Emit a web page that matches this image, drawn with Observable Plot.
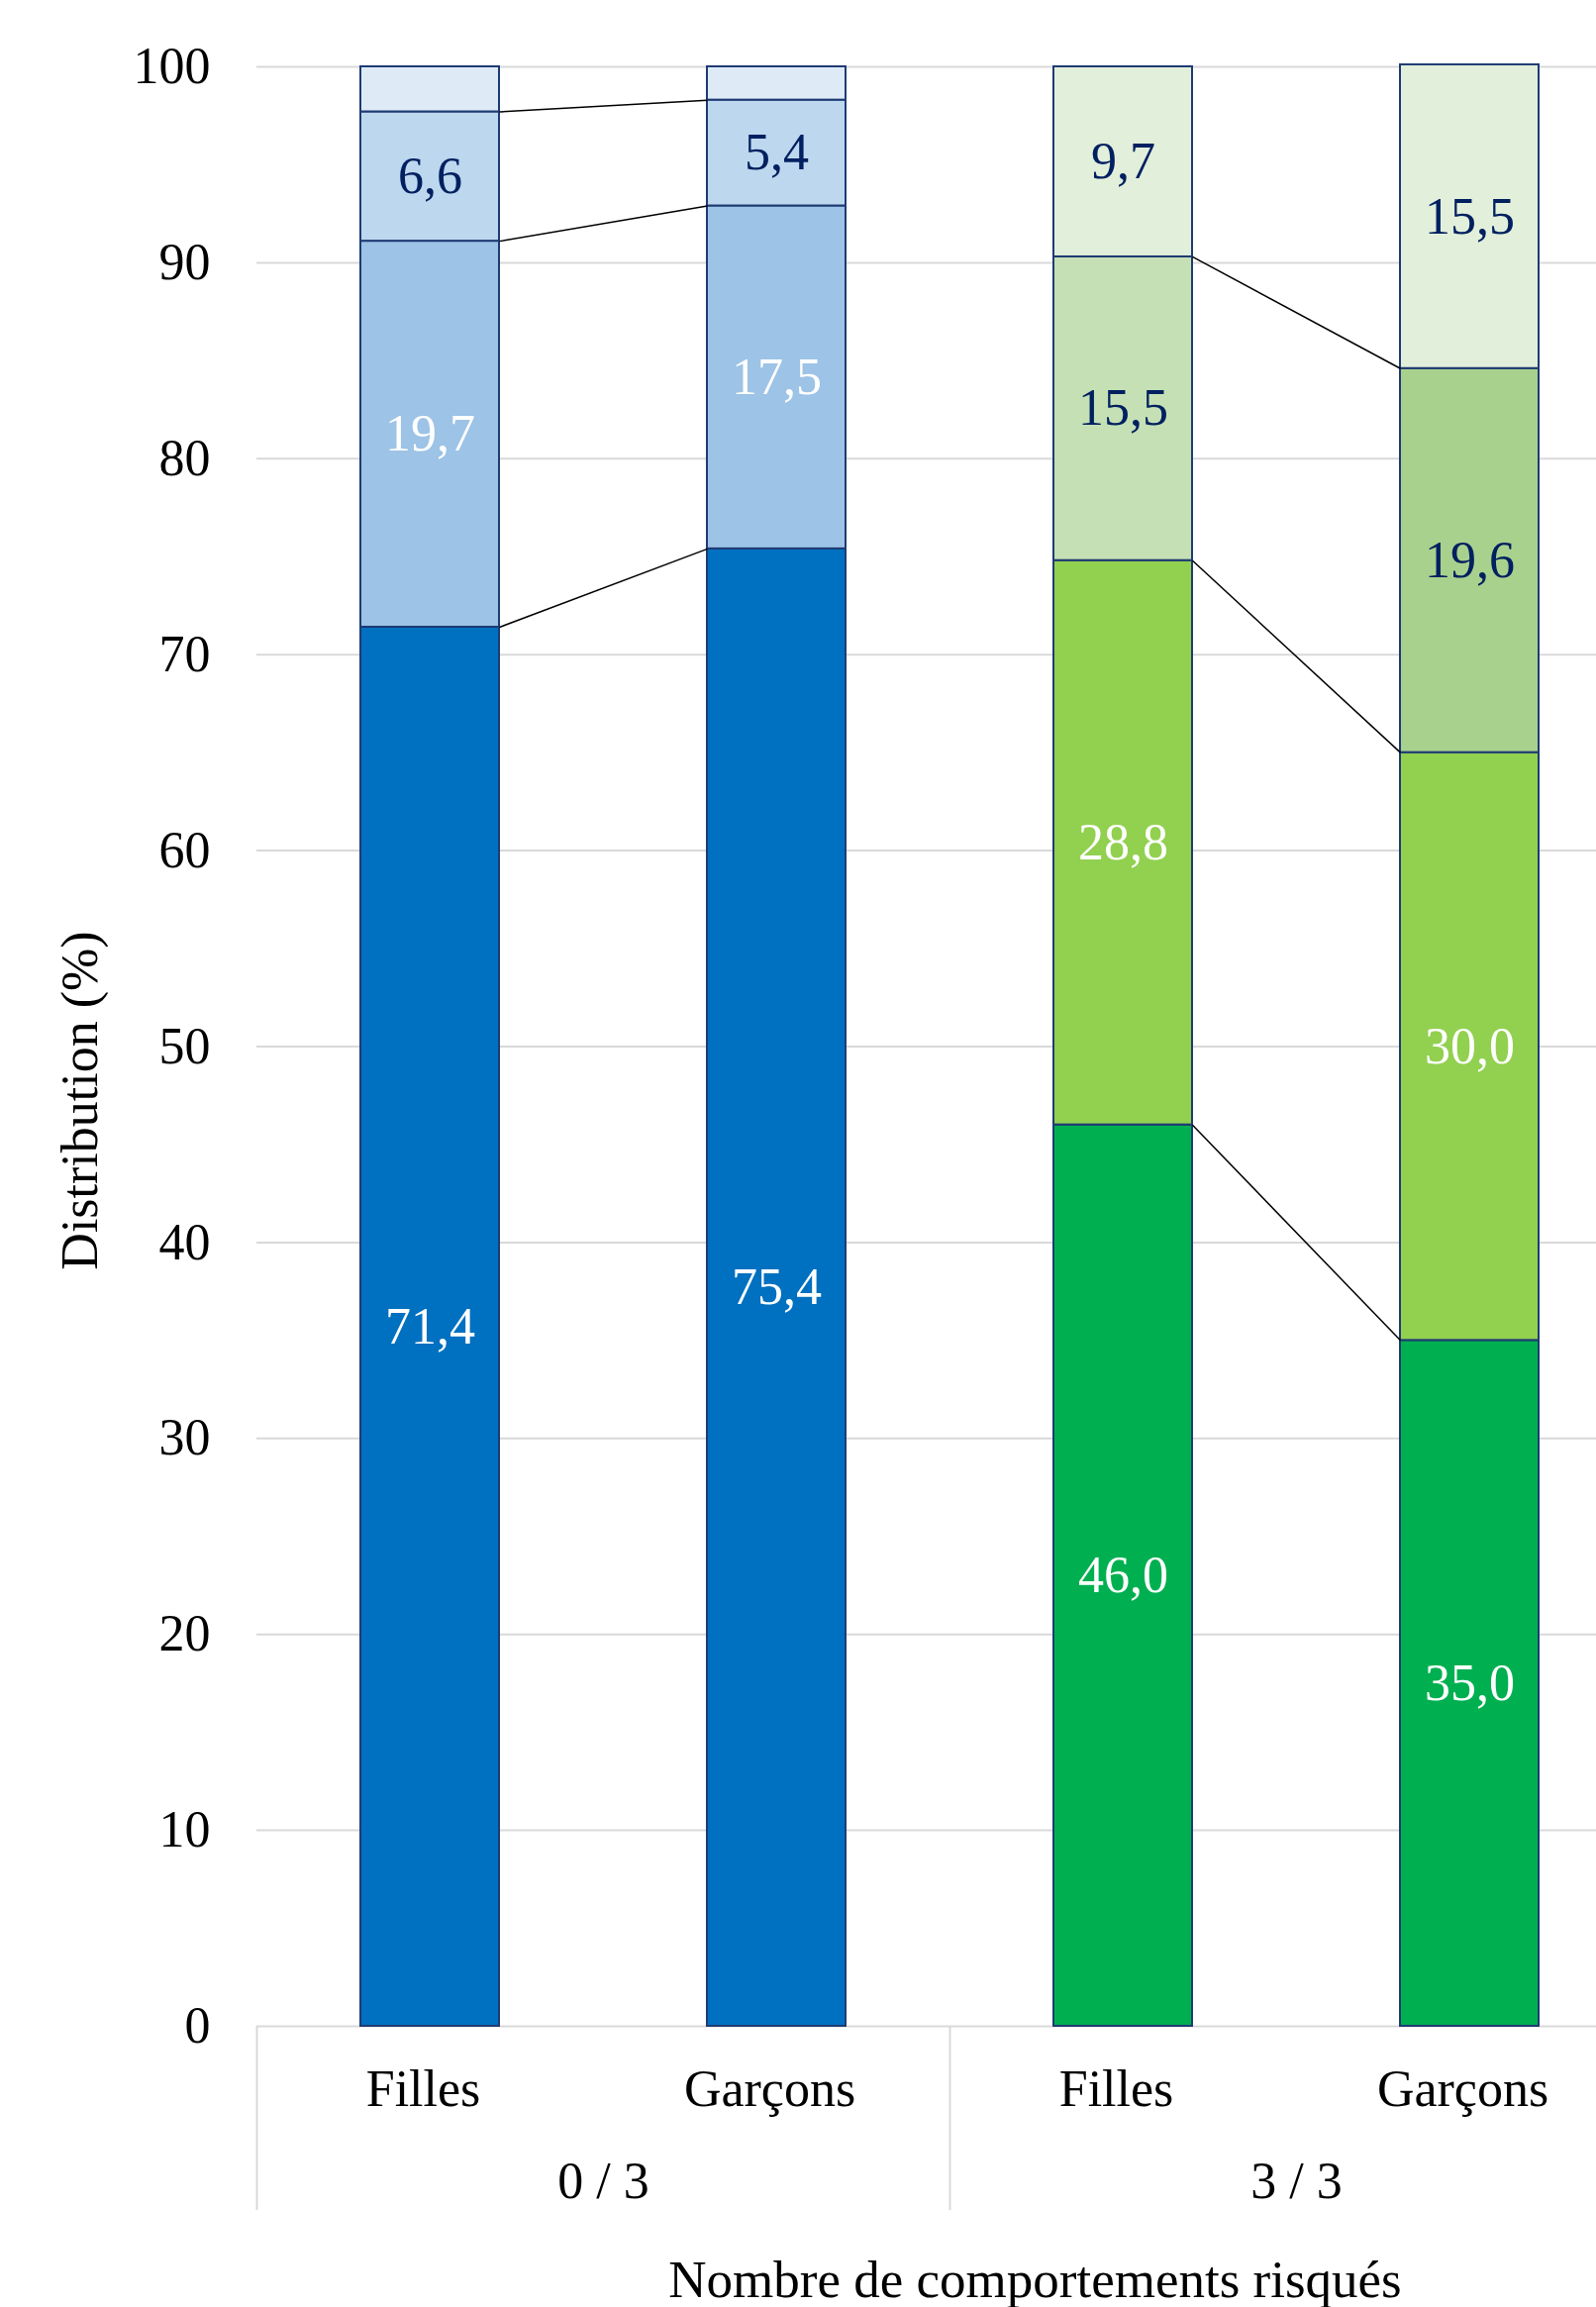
<!DOCTYPE html>
<html>
<head>
<meta charset="utf-8">
<script src="https://cdn.jsdelivr.net/npm/d3@7"></script>
<script src="https://cdn.jsdelivr.net/npm/@observablehq/plot@0.6"></script>
<style>
  html, body { margin: 0; padding: 0; background: #fff; }
  #chart svg { display: block; }
</style>
</head>
<body>
<div id="chart"></div>
<script>
// ---- Data ----
const categories = ["Filles", "Garçons", "Filles", "Garçons"];
const groups = ["0 / 3", "3 / 3"];
const groupTicks = [0.5, 2.5];
const seg1 = [71.4, 75.4, 46.0, 35.0];
const seg2 = [19.7, 17.5, 28.8, 30.0];
const seg3 = [6.6, 5.4, 15.5, 19.6];
const seg4 = [2.3, 1.7, 9.7, 15.5];
const showLabel4 = [false, false, true, true];
const yTicks = [0, 10, 20, 30, 40, 50, 60, 70, 80, 90, 100];

const fills = [
  ["#0070C0", "#9DC3E6", "#BDD7EE", "#DEEBF7"],
  ["#0070C0", "#9DC3E6", "#BDD7EE", "#DEEBF7"],
  ["#00B050", "#92D050", "#C5E0B4", "#E2EFDA"],
  ["#00B050", "#92D050", "#A9D18E", "#E2EFDA"]
];
const labelColors = [
  ["#FFFFFF", "#FFFFFF", "#002060", "#002060"],
  ["#FFFFFF", "#FFFFFF", "#002060", "#002060"],
  ["#FFFFFF", "#FFFFFF", "#002060", "#002060"],
  ["#FFFFFF", "#FFFFFF", "#002060", "#002060"]
];
const segs = [seg1, seg2, seg3, seg4];

// ---- Build table ----
const rows = [];
const cum = categories.map(() => [0]);
categories.forEach((c, i) => {
  let base = 0;
  segs.forEach((s, k) => {
    const v = s[i];
    rows.push({
      i, k, value: v, y1: base, y2: base + v,
      fill: fills[i][k], labelColor: labelColors[i][k],
      show: k < 3 || showLabel4[i]
    });
    base += v;
    cum[i].push(base);
  });
});
const fmt = v => v.toFixed(1).replace(".", ",");

const half = 0.2;
const links = [];
[[0, 1], [2, 3]].forEach(([a, b]) => {
  [1, 2, 3].forEach(k => {
    links.push({x1: a + half, y1: cum[a][k], x2: b - half, y2: cum[b][k]});
  });
});

const FONT = "'Liberation Serif', 'Times New Roman', Times, serif";
const FS = 52;

const chart = Plot.plot({
  width: 1612,
  height: 2330,
  marginTop: 67,
  marginBottom: 284,
  marginLeft: 259,
  marginRight: 0,
  style: {fontFamily: FONT, fontSize: FS + "px", color: "#000", background: "#fff"},
  x: {domain: [-0.5, 3.5], range: [259, 1659]},
  y: {domain: [0, 100]},
  color: {type: "identity"},
  marks: [
    Plot.gridY(yTicks, {stroke: "#d9d9d9", strokeOpacity: 1, strokeWidth: 2}),
    Plot.axisX({ticks: [-0.5, 1.5, 3.5], tickSize: 186, tickFormat: () => "",
      stroke: "#d9d9d9", strokeOpacity: 1, strokeWidth: 2, label: null}),
    Plot.rect(rows, {
      x1: d => d.i - half, x2: d => d.i + half,
      y1: "y1", y2: "y2", fill: "fill",
      stroke: "#1F3B73", strokeWidth: 2
    }),
    Plot.link(links, {x1: "x1", y1: "y1", x2: "x2", y2: "y2", stroke: "#000", strokeWidth: 1.5}),
    Plot.text(rows.filter(d => d.show), {
      x: "i", y: d => (d.y1 + d.y2) / 2, text: d => fmt(d.value),
      fill: "labelColor", fontSize: FS, fontFamily: FONT
    }),
    Plot.axisY({ticks: yTicks, tickSize: 0, tickPadding: 47, fontSize: FS, label: null}),
    Plot.axisX({ticks: [0, 1, 2, 3], tickFormat: i => categories[i], tickSize: 0,
      tickPadding: 44, dx: -7, fontSize: FS, label: null}),
    Plot.axisX({ticks: groupTicks, tickFormat: (t, j) => groups[groupTicks.indexOf(t)],
      tickSize: 0, tickPadding: 137, fontSize: FS, label: null}),
    Plot.text(["Distribution (%)"], {
      frameAnchor: "left", textAnchor: "middle", lineAnchor: "middle",
      rotate: -90, dx: 81 - 259, dy: 1111 - 1056.5, fontSize: FS, fontFamily: FONT, fill: "#000"
    }),
    Plot.text(["Nombre de comportements risqués"], {
      frameAnchor: "bottom", textAnchor: "middle", lineAnchor: "top",
      dx: 1045 - 935.5, dy: 236, fontSize: 53, fontFamily: FONT, fill: "#000"
    })
  ]
});
document.getElementById("chart").appendChild(chart);
</script>
</body>
</html>
